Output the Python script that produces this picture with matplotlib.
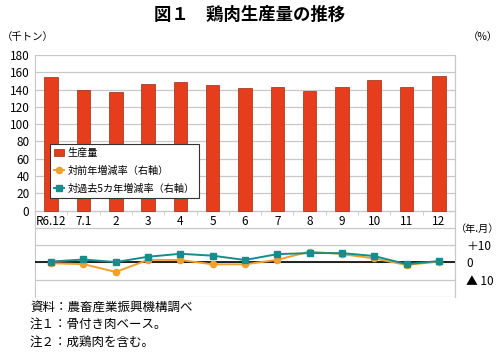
import matplotlib
matplotlib.use("Agg")
import matplotlib.pyplot as plt
import numpy as np

plt.rcParams['font.family'] = ['Noto Sans CJK JP', 'DejaVu Sans']

categories = ['R6.12', '7.1', '2', '3', '4', '5', '6', '7', '8', '9', '10', '11', '12']
production = [154.5, 139, 136.8, 146.4, 148.4, 145.7, 141.4, 143, 138, 142.6, 151, 143, 155.7]
yoy = [-0.5, -1.0, -5.5, 1.5, 1.4, -1.1, -1.1, 1.5, 6.3, 4.8, 2.3, -1.5, 0.5]
vs5y = [0.5, 1.7, 0.2, 3.3, 5.0, 3.9, 1.4, 4.8, 5.4, 5.4, 3.7, -1.0, 0.8]
left_ticks = [0, 20, 40, 60, 80, 100, 120, 140, 160, 180]
right_ticks = [-10, 0, 10]
right_labels = ['▲ 10', '0', '＋10']

fig = plt.figure(figsize=(5.0, 3.54), dpi=100)
ax = fig.add_axes([35/500, 1-297/354, 420/500, 242/354])
x = np.arange(len(categories))

grid_c = '#C8C8C8'
ax.set_xlim(-0.5, len(categories) - 0.5)
ax.set_ylim(-100, 180)
all_ticks = list(range(-100, 181, 20))
ax.set_yticks(all_ticks)
ax.set_yticklabels([str(v) if v in left_ticks else '' for v in all_ticks], fontsize=8.5)
ax.yaxis.grid(True, color=grid_c, lw=0.9)
ax.set_axisbelow(True)
ax.tick_params(axis='y', length=0, pad=4)

bars = ax.bar(x, production, width=0.42, color='#E63E1C', edgecolor='#9A2A14', linewidth=0.5,
              label='生産量', zorder=3)

ax.spines['top'].set_visible(False)
ax.spines['left'].set_color(grid_c)
ax.spines['right'].set_color(grid_c)
ax.spines['bottom'].set_position(('data', 0))
ax.spines['bottom'].set_color(grid_c)
ax.set_xticks(x)
ax.set_xticklabels(categories, fontsize=8.5)
ax.set_xticks(np.arange(-0.5, len(categories), 1.0), minor=True)
ax.tick_params(axis='x', which='major', length=0, pad=3)
ax.tick_params(axis='x', which='minor', length=3, color=grid_c)

ax2 = ax.twinx()
ax2.set_ylim(-20, 120)
ax2.axhline(0, color='black', lw=1.2, zorder=2)
l1, = ax2.plot(x, yoy, color='#F0A02C', marker='o', markersize=4.5, lw=1.4,
               label='対前年増減率（右軸）', zorder=4)
l2, = ax2.plot(x, vs5y, color='#178C8C', marker='s', markersize=5, lw=1.4,
               label='対過去5カ年増減率（右軸）', zorder=5)
ax2.set_yticks(right_ticks)
ax2.set_yticklabels(right_labels, fontsize=8.5)
ax2.tick_params(axis='y', length=0, pad=8)
for s in ['top', 'left', 'bottom']:
    ax2.spines[s].set_visible(False)
ax2.spines['right'].set_color(grid_c)

handles = [bars, l1, l2]
labels = ['生産量', '対前年増減率（右軸）', '対過去5カ年増減率（右軸）']
leg = ax2.legend(handles, labels, loc='lower left',
                 bbox_to_anchor=(0.036, 0.41), fontsize=7.3, frameon=True,
                 fancybox=False, edgecolor='#333333', framealpha=1,
                 handlelength=1.0, borderpad=0.4, labelspacing=0.75,
                 handletextpad=0.3, borderaxespad=0)
leg.get_frame().set_linewidth(0.8)
leg.set_zorder(10)

fig.text(0.5, 1 - 15/354, '図１　鶏肉生産量の推移', ha='center', va='center',
         fontsize=12.5, fontweight='bold')
fig.text(2/500, 1 - 37/354, '（千トン）', ha='left', va='center', fontsize=7.5)
fig.text(498/500, 1 - 37/354, '（%）', ha='right', va='center', fontsize=7.5)
fig.text(499/500, 1 - 229/354, '（年.月）', ha='right', va='center', fontsize=7.3)

notes = ['資料：農畜産業振興機構調べ', '注１：骨付き肉ベース。', '注２：成鶏肉を含む。']
for i, t in enumerate(notes):
    fig.text(30/500, 1 - (307 + 17.5 * i)/354, t, ha='left', va='center', fontsize=9)

fig.savefig('out.png', dpi=100)
